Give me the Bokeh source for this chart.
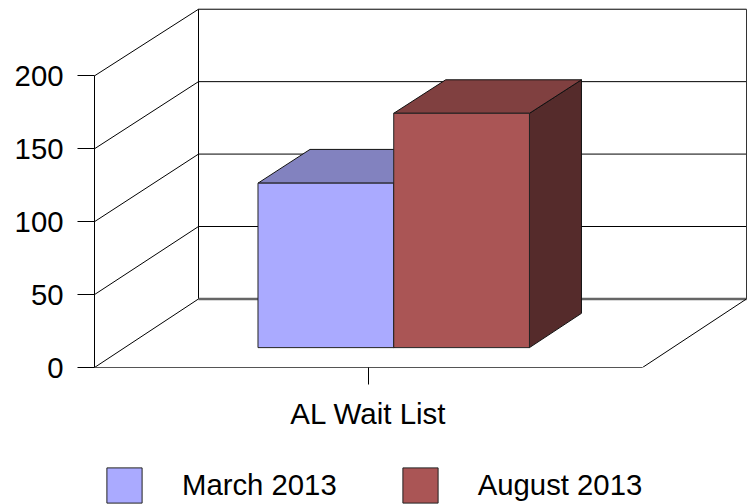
from bokeh.plotting import figure
from bokeh.layouts import column
from bokeh.models import FixedTicker, Legend, LegendItem, Range1d
from bokeh.embed import file_html
from bokeh.resources import INLINE

categories = ["AL Wait List"]
series_names = ["March 2013", "August 2013"]
march_2013 = [113]
august_2013 = [161]
y_ticks = [0, 50, 100, 150, 200]

FONT = "Liberation Sans"
FRONT_COLORS = ["#AAAAFF", "#AA5555"]
TOP_COLORS = ["#8282BF", "#804040"]
SIDE_COLORS = ["#7F7FBF", "#552B2B"]

# Pixel scale of the front plane, and the oblique depth of the box
PX_X, PX_Y = 548, 1.457
DX, DY, SHRINK = 104 / PX_X, 68.5 / PX_Y, 0.0066


def proj(x, y, d):
    return x + d * DX, y * (1 - d * SHRINK) + d * DY


def quad(corners):
    pts = [proj(*c) for c in corners]
    return [a for a, _ in pts], [b for _, b in pts]


p = figure(width=748, height=461, output_backend="svg", toolbar_location=None,
           x_range=Range1d(0, 654 / PX_X), y_range=Range1d(0, 359.7 / PX_Y),
           min_border_left=94, min_border_right=0, min_border_top=7, min_border_bottom=94)
p.grid.visible = False
p.outline_line_color = None
p.background_fill_color = None
p.border_fill_color = "white"

# Walls and floor
top = y_ticks[-1]
for v in y_ticks:
    xs, ys = quad([(0, v, 0), (0, v, 1), (1, v, 1)])
    p.line(xs, ys, line_color="#000000", line_width=1)
xs, ys = quad([(0, 0, 1), (0, top, 1)])
p.line(xs, ys, line_color="#000000", line_width=1)
xs, ys = quad([(1, 0, 1), (1, top, 1)])
p.line(xs, ys, line_color="#333333", line_width=1)
xs, ys = quad([(0, 0, 1), (1, 0, 1)])
p.line(xs, ys, line_color="#666666", line_width=2.5)
xs, ys = quad([(1, 0, 0), (1, 0, 1)])
p.line(xs, ys, line_color="#000000", line_width=1)

# Bars
CENTER, BAR_W, D0, D1 = 0.491, 0.2477, 0.29, 0.79
values = [march_2013[0], august_2013[0]]
for i, v in enumerate(values):
    x0 = CENTER + (i - 1) * BAR_W
    x1 = x0 + BAR_W
    for corners, color in [
        ([(x1, 0, D0), (x1, 0, D1), (x1, v, D1), (x1, v, D0)], SIDE_COLORS[i]),
        ([(x0, v, D0), (x1, v, D0), (x1, v, D1), (x0, v, D1)], TOP_COLORS[i]),
    ]:
        xs, ys = quad(corners)
        p.patch(xs, ys, fill_color=color, line_color="#111111", line_width=1)
    xs, ys = quad([(x0, 0, D0), (x1, 0, D0), (x1, v, D0), (x0, v, D0)])
    p.patch(xs, ys, fill_color=FRONT_COLORS[i], line_color="#222222", line_width=1)

# Axes
ya = p.yaxis[0]
ya.ticker = FixedTicker(ticks=y_ticks)
ya.bounds = (0, top)
ya.major_tick_in = 0
ya.major_tick_out = 17
ya.minor_tick_line_color = None
ya.major_label_standoff = 14
ya.major_label_text_font = FONT
ya.major_label_text_font_size = "29.3px"
ya.major_label_text_color = "#000000"
ya.axis_line_color = "#000000"

xa = p.xaxis[0]
xa.ticker = FixedTicker(ticks=[0.5])
xa.major_label_overrides = {0.5: categories[0]}
xa.bounds = (0, 1)
xa.major_tick_in = 0
xa.major_tick_out = 17
xa.minor_tick_line_color = None
xa.major_label_standoff = 12
xa.major_label_text_font = FONT
xa.major_label_text_font_size = "29.5px"
xa.major_label_text_color = "#000000"
xa.axis_line_color = "#555555"

# Legend strip under the chart; its swatches take their look from bars kept out of view
q = figure(width=748, height=43, output_backend="svg", toolbar_location=None,
           x_range=Range1d(0, 1), y_range=Range1d(0, 1),
           x_axis_location=None, y_axis_location=None,
           min_border_left=0, min_border_right=0, min_border_top=0, min_border_bottom=0)
q.grid.visible = False
q.outline_line_color = None
swatches = [q.vbar(x=[2], width=0.1, bottom=[2], top=[v], fill_color=c, line_color="#222222", line_width=1)
            for v, c in zip(values, FRONT_COLORS)]
legend = Legend(
    items=[LegendItem(label=n, renderers=[r]) for n, r in zip(series_names, swatches)],
    orientation="horizontal", location=(8, -3), margin=0, padding=0,
    glyph_width=44, glyph_height=44, label_standoff=36, spacing=61,
    label_text_font=FONT, label_text_font_size="29.3px", label_text_color="#000000",
    border_line_color=None, background_fill_color=None, background_fill_alpha=0,
    label_height=44,
)
q.add_layout(legend, "center")

layout = column(p, q, spacing=0)
open("out.html", "w").write(file_html(layout, INLINE))
